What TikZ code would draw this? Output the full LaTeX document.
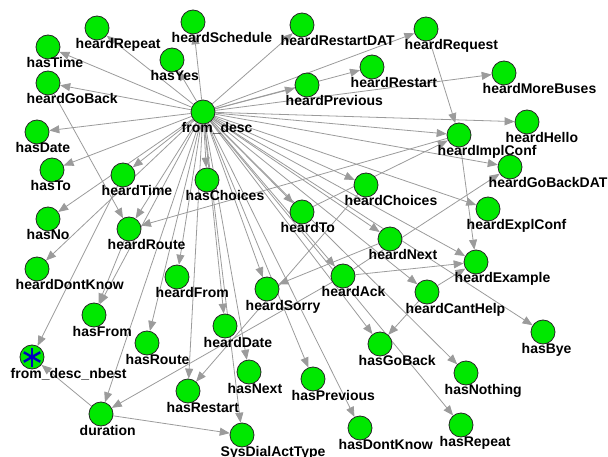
\documentclass[tikz,border=0pt]{standalone}
\usepackage{fontspec}
\setmainfont{Liberation Sans}
\usetikzlibrary{arrows.meta,backgrounds}

\definecolor{nodegreen}{RGB}{0,232,0}
\definecolor{edgegray}{RGB}{155,155,155}
\definecolor{starblue}{RGB}{0,0,190}

\tikzset{
	var/.style={circle, fill=nodegreen, draw=black!85, line width=0.8pt, minimum size=24pt, inner sep=0pt},
	lbl/.style={anchor=base west, inner sep=0pt, font=\fontsize{14}{14}\selectfont\bfseries},
	edge/.style={draw=edgegray, line width=0.8pt, -{Triangle[length=10pt,width=8pt]}},
	nstar/.style={draw=starblue, line width=2.4pt}
}

\begin{document}
\begin{tikzpicture}[x=1pt,y=-1pt]
	\useasboundingbox (0,0) rectangle (608,457);
	
	% ---- Variables (name/x/y) ----
	\foreach \name/\x/\y in {
		hasTime/48/47, heardRepeat/97/28, heardSchedule/193/22, hasYes/172/60,
		heardRestartDAT/302/25, heardRequest/426/29, heardRestart/372/67,
		heardMoreBuses/504/73, heardPrevious/307/85, heardGoBack/48/83,
		heardHello/527/122, heardImplConf/459/135, hasDate/37/132,
		heardGoBackDAT/510/167, hasTo/52/170, heardTime/123/175,
		hasChoices/207/180, heardChoices/366/185, heardExplConf/488/209,
		hasNo/48/219, heardRoute/129/229, heardTo/302/212, heardNext/390/239,
		heardExample/476/262, heardDontKnow/37/269, heardFrom/177/277,
		heardSorry/267/289, heardAck/343/276, heardCantHelp/427/292,
		hasBye/543/332, hasFrom/94/315, hasRoute/147/343, heardDate/225/326,
		hasNext/249/372, hasRestart/188/391, hasPrevious/313/379,
		hasGoBack/380/344, hasNothing/466/373, duration/101/414,
		SysDialActType/242/435, hasDontKnow/360/428, hasRepeat/461/425
	}
	{
		\node[var] (\name) at (\x,\y) {};
		\node[lbl] (\name-lbl) at (\x-21.5,\y+21) {\name};
	}
	
	% ---- The two nodes with an underscore ----
	\node[var] (fromdesc) at (203,112) {};
	\node[lbl] (fromdesc-lbl) at (181.5,133) {from\_desc};
	\node[var] (nbest) at (32,357) {};
	\node[lbl] (nbest-lbl) at (10.5,378) {from\_desc\_nbest};
	\foreach \a in {90,30,150}
	\draw[nstar] (nbest.center) ++(\a:9.5) -- ++(\a+180:19);
	
	% ---- Edges ----
	\begin{scope}[on background layer]
		\foreach \t in {hasTime, heardRepeat, heardSchedule, hasYes, heardRestartDAT,
			heardRequest, heardRestart, heardMoreBuses, heardPrevious, heardGoBack,
			heardHello, heardImplConf, hasDate, heardGoBackDAT, hasTo, heardTime,
			hasChoices, heardChoices, heardExplConf, hasNo, heardRoute, heardTo,
			heardNext, heardExample, heardDontKnow, heardFrom, heardSorry, heardAck,
			heardCantHelp, hasBye, hasFrom, hasRoute, heardDate, hasNext, hasRestart,
			hasPrevious, hasGoBack, hasNothing, duration, SysDialActType,
			hasDontKnow, hasRepeat}
		\draw[edge] (fromdesc) -- (\t);
		
		\foreach \s/\t in {heardGoBack/heardRoute, heardImplConf/heardRoute,
			heardRequest/heardImplConf, heardImplConf/heardExample,
			heardTime/nbest, heardRoute/hasFrom, duration/nbest,
			duration/SysDialActType, heardAck/duration, heardAck/heardExample,
			heardAck/heardGoBackDAT, heardNext/heardSorry, heardChoices/hasRestart,
			heardTo/heardImplConf, heardCantHelp/hasGoBack, heardCantHelp/heardExample}
		\draw[edge] (\s) -- (\t);
	\end{scope}
	
\end{tikzpicture}
\end{document}
